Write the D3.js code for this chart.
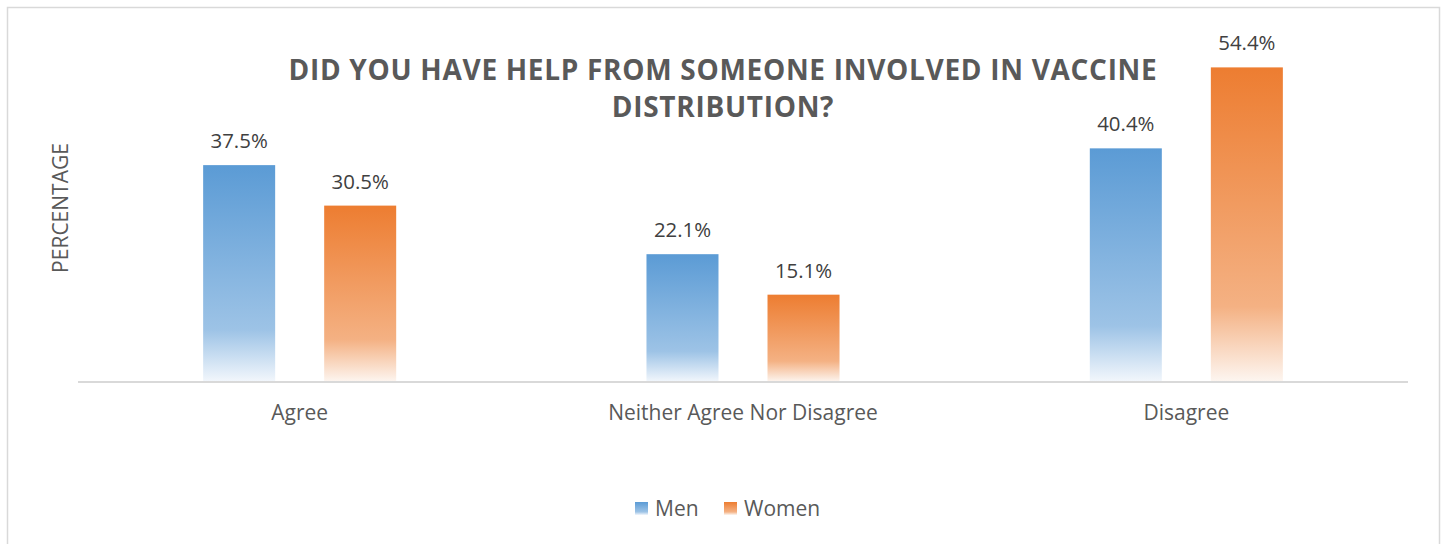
<!DOCTYPE html>
<html>
<head>
<meta charset="utf-8">
<script src="https://cdn.jsdelivr.net/npm/d3@7"></script>
<style>
  html, body { margin: 0; padding: 0; background: #fff; }
  svg { display: block; font-family: "Open Sans", sans-serif; }
</style>
</head>
<body>
<svg id="chart" width="1445" height="544"></svg>
<script>
const categories = ["Agree", "Neither Agree Nor Disagree", "Disagree"];
const seriesNames = ["Men", "Women"];
const menValues = [37.5, 22.1, 40.4];
const womenValues = [30.5, 15.1, 54.4];
const titleLines = ["DID YOU HAVE HELP FROM SOMEONE INVOLVED IN VACCINE", "DISTRIBUTION?"];
const yTitle = "PERCENTAGE";

const seriesValues = [menValues, womenValues];
const colors = {
  Men: ["#5B9BD5", "#9DC3E6", "#F3F7FC"],
  Women: ["#ED7D31", "#F4B183", "#FDF6F1"]
};

const svg = d3.select("#chart");
const plot = { left: 78, right: 1408, top: 35, bottom: 382 };

// outer border
svg.append("rect").attr("x", 7.5).attr("y", 7.5).attr("width", 1432).attr("height", 560)
  .attr("fill", "#fff").attr("stroke", "#D9D9D9").attr("stroke-width", 1.5);

// gradients
const defs = svg.append("defs");
seriesNames.forEach(s => {
  const g = defs.append("linearGradient").attr("id", "grad-" + s)
    .attr("x1", 0).attr("y1", 0).attr("x2", 0).attr("y2", 1);
  g.append("stop").attr("offset", "0%").attr("stop-color", colors[s][0]);
  g.append("stop").attr("offset", "76%").attr("stop-color", colors[s][1]);
  g.append("stop").attr("offset", "100%").attr("stop-color", colors[s][2]);
});

const x0 = d3.scaleBand().domain(categories).range([plot.left, plot.right]).padding(0);
const x1 = d3.scaleBand().domain(seriesNames).range([0, x0.bandwidth()])
  .paddingInner(0.405).paddingOuter(1.034);
const y = d3.scaleLinear().domain([0, 60]).range([plot.bottom, plot.top]);

// bars
categories.forEach((c, i) => {
  const g = svg.append("g").attr("transform", `translate(${x0(c)},0)`);
  seriesNames.forEach((s, j) => {
    const v = seriesValues[j][i];
    g.append("rect")
      .attr("x", x1(s)).attr("y", y(v))
      .attr("width", x1.bandwidth()).attr("height", y(0) - y(v))
      .attr("fill", `url(#grad-${s})`);
    g.append("text")
      .attr("x", x1(s) + x1.bandwidth() / 2).attr("y", y(v) - 17)
      .attr("text-anchor", "middle").attr("fill", "#404040")
      .attr("font-size", 20.4).text(v.toFixed(1) + "%");
  });
});

// x axis
const xAxis = svg.append("g").attr("transform", `translate(0,${plot.bottom})`)
  .call(d3.axisBottom(x0).tickSize(0).tickPadding(0));
xAxis.select(".domain").attr("stroke", "#D9D9D9").attr("stroke-width", 2)
  .attr("d", `M${plot.left},0H${plot.right}`);
xAxis.selectAll(".tick text").attr("font-family", "Open Sans, sans-serif")
  .attr("font-size", 21).attr("fill", "#595959").attr("dy", null).attr("y", 38);

// y title
svg.append("text").attr("transform", "translate(68,208) rotate(-90)")
  .attr("text-anchor", "middle").attr("fill", "#595959").attr("font-size", 21)
  .text(yTitle);

// title
svg.append("g").selectAll("text").data(titleLines).join("text")
  .attr("x", 723).attr("y", (d, i) => 80 + i * 37)
  .attr("text-anchor", "middle").attr("fill", "#595959")
  .attr("font-size", 28).attr("font-weight", "bold").attr("letter-spacing", 0.7)
  .text(d => d);

// legend
const legendItems = [{ s: "Men", x: 635 }, { s: "Women", x: 724 }];
const lg = svg.append("g");
legendItems.forEach(it => {
  lg.append("rect").attr("x", it.x).attr("y", 502).attr("width", 13).attr("height", 13)
    .attr("fill", `url(#grad-${it.s})`);
  lg.append("text").attr("x", it.x + 20).attr("y", 516).attr("fill", "#595959")
    .attr("font-size", 21).text(it.s);
});
</script>
</body>
</html>
